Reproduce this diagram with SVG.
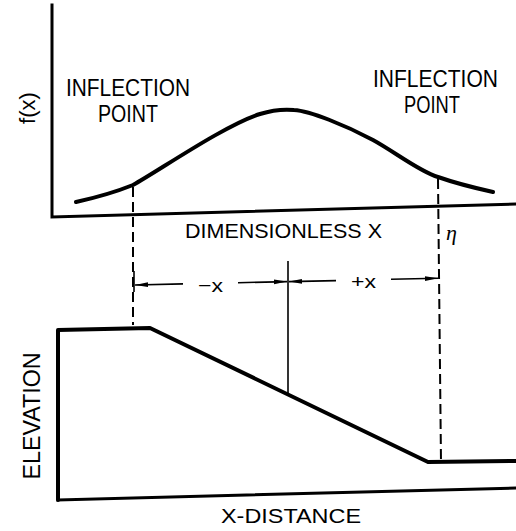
<svg xmlns="http://www.w3.org/2000/svg" width="516" height="531" viewBox="0 0 516 531">
<style>
.lbl{font-family:"Liberation Sans",Arial,sans-serif;fill:#000}
.axis{stroke:#000;stroke-width:3;fill:none;stroke-linecap:square}
.thick{stroke:#000;stroke-width:4;fill:none;stroke-linejoin:round;stroke-linecap:round}
.dash{stroke:#000;stroke-width:2;fill:none;stroke-dasharray:10 5}
.dim{stroke:#000;stroke-width:1.6;fill:none}
</style>
<defs>
<marker id="ah" markerUnits="userSpaceOnUse" markerWidth="13" markerHeight="6" refX="13" refY="3" orient="auto">
<path d="M0,0.6 L13,3 L0,5.4 z" fill="#000"/>
</marker>
</defs>
<rect width="516" height="531" fill="#fff"/>
<g id="top-chart">
<path class="axis" d="M52,5 L52,217 L516,204"/>
<path class="thick" d="M76,202 Q108,195 133,185 C160,170 225,125 260,114 C271,110.5 283,109 294,110 C310,111 345,125 373,140 C395,152 420,172 438,177 C455,183 475,188 493,192"/>
<text class="lbl" transform="translate(35,108) rotate(-90)" font-size="22" text-anchor="middle">f(x)</text>
<text class="lbl" x="66" y="96" font-size="23" textLength="124" lengthAdjust="spacingAndGlyphs">INFLECTION</text>
<text class="lbl" x="98" y="122" font-size="23" textLength="60" lengthAdjust="spacingAndGlyphs">POINT</text>
<text class="lbl" x="373" y="87" font-size="23" textLength="125" lengthAdjust="spacingAndGlyphs">INFLECTION</text>
<text class="lbl" x="404" y="113" font-size="23" textLength="56" lengthAdjust="spacingAndGlyphs">POINT</text>
<text class="lbl" x="185" y="238" font-size="21" textLength="197" lengthAdjust="spacingAndGlyphs">DIMENSIONLESS X</text>
<text x="446" y="240" font-size="22" font-style="italic" font-family="'Liberation Serif','DejaVu Serif',serif">η</text>
</g>
<g id="connectors">
<path class="dash" d="M133,187 L133,325"/>
<path class="dash" d="M438,179 L441,462"/>
<path class="dim" d="M134,271 L134,292"/>
<path class="dim" d="M288,261 L288,394"/>
<line class="dim" x1="183" y1="283.9" x2="135" y2="285" marker-end="url(#ah)"/>
<line class="dim" x1="238" y1="282.7" x2="287" y2="281.6" marker-end="url(#ah)"/>
<line class="dim" x1="336" y1="280.6" x2="289" y2="281.6" marker-end="url(#ah)"/>
<line class="dim" x1="391" y1="279.3" x2="438" y2="278.3" marker-end="url(#ah)"/>
<text class="lbl" x="198" y="292" font-size="19" textLength="25" lengthAdjust="spacingAndGlyphs">−x</text>
<text class="lbl" x="351" y="288" font-size="19" textLength="25" lengthAdjust="spacingAndGlyphs">+x</text>
</g>
<g id="bottom-chart">
<path class="thick" stroke-width="3.5" d="M58,500 L58,330 L150,328 L428,462 L516,461"/>
<path class="axis" d="M58,500 L516,488"/>
<text class="lbl" transform="translate(40,416) rotate(-90)" font-size="23" text-anchor="middle" textLength="127" lengthAdjust="spacingAndGlyphs">ELEVATION</text>
<text class="lbl" x="221" y="523" font-size="21" textLength="140" lengthAdjust="spacingAndGlyphs">X-DISTANCE</text>
</g>
</svg>
